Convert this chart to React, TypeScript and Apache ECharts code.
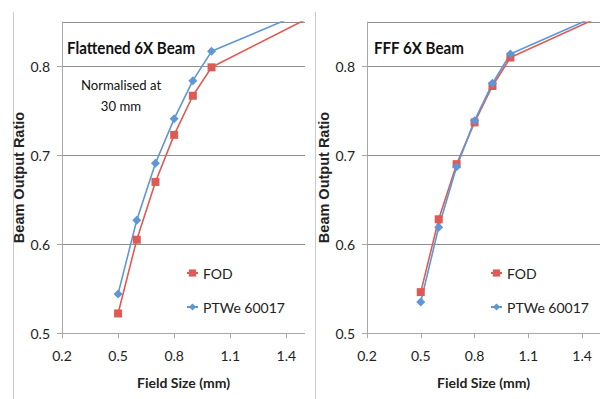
import React, { useEffect, useRef } from "react";
import * as echarts from "echarts";

const fieldSizes = [0.5, 0.6, 0.7, 0.8, 0.9, 1.0, 2.0];
const flatFOD = [0.522, 0.605, 0.67, 0.723, 0.767, 0.799, 0.906];
const flatPTW = [0.544, 0.627, 0.691, 0.741, 0.784, 0.817, 0.906];
const fffFOD = [0.546, 0.628, 0.69, 0.737, 0.778, 0.81, 0.902];
const fffPTW = [0.535, 0.619, 0.687, 0.739, 0.781, 0.814, 0.903];
const seriesNames = ["FOD", "PTWe 60017"];
const panelTitles = ["Flattened 6X Beam", "FFF 6X Beam"];
const noteLines = ["Normalised at", "30 mm"];
const xName = "Field Size (mm)";
const yName = "Beam Output Ratio";

const RED = "#DE5B53";
const BLUE = "#5F96D6";
const FONT = "Lato, 'Open Sans', sans-serif";
const ARIAL = "'Liberation Sans', Arial, sans-serif";

const pairs = (ys: number[]) => fieldSizes.map((x, i) => [x, ys[i]]);

export default function App() {
  const ref = useRef<HTMLDivElement>(null);
  useEffect(() => {
    if (!ref.current) return;
    const chart = echarts.init(ref.current, null, { renderer: "svg" });
    const grids = [
      { left: 62, top: 22, width: 243, height: 311 },
      { left: 367, top: 22, width: 240, height: 311 },
    ];
    const xAxis = grids.map((_, i) => ({
      type: "value",
      gridIndex: i,
      min: 0.2,
      max: 1.5,
      interval: 0.3,
      name: xName,
      nameLocation: "middle",
      nameGap: 42,
      nameTextStyle: { fontFamily: FONT, fontWeight: "bold", fontSize: 14, color: "#222" },
      axisLine: { show: true, lineStyle: { color: "#a8a8a8", width: 1 } },
      axisTick: { show: true, length: 5, lineStyle: { color: "#a8a8a8" } },
      axisLabel: {
        margin: 15,
        fontFamily: FONT,
        fontSize: 14,
        color: "#222",
        showMaxLabel: false,
        formatter: (v: number) => (Math.round(v * 10) / 10).toFixed(1),
      },
      splitLine: { show: false },
    }));
    const yAxis = grids.map((_, i) => ({
      type: "value",
      gridIndex: i,
      min: 0.5,
      max: 0.85,
      interval: 0.1,
      name: yName,
      nameLocation: "middle",
      nameGap: 32,
      nameTextStyle: { fontFamily: ARIAL, fontWeight: "bold", fontSize: 14.5, color: "#222" },
      axisLine: { show: true, lineStyle: { color: "#a8a8a8", width: 1 } },
      axisTick: { show: true, length: 5, lineStyle: { color: "#a8a8a8" } },
      axisLabel: {
        margin: 12,
        fontFamily: FONT,
        fontSize: 14,
        color: "#222",
        showMaxLabel: false,
        formatter: (v: number) => (Math.round(v * 10) / 10).toFixed(1),
      },
      splitLine: { show: true, lineStyle: { color: "#8f8f8f", width: 1 } },
    }));
    const mk = (name: string, data: number[], gi: number, color: string, symbol: string, size: number) => ({
      type: "line",
      name,
      xAxisIndex: gi,
      yAxisIndex: gi,
      data: pairs(data),
      symbol,
      symbolSize: size,
      clip: true,
      lineStyle: { color, width: 1.6 },
      itemStyle: { color },
    });
    const legend = (left: number) => ({
      data: seriesNames,
      orient: "vertical",
      left,
      top: 266,
      padding: 0,
      itemGap: 20,
      itemWidth: 11,
      itemHeight: 9,
      textStyle: { fontFamily: FONT, fontSize: 14, color: "#222" },
    });
    const txt = (x: number, y: number, text: string, size: number, weight: string, align: string, sx: number) => ({
      type: "text",
      x,
      y,
      scaleX: sx,
      style: { text, fontFamily: FONT, fontSize: size, fontWeight: weight, fill: "#111", align, verticalAlign: "middle" },
    });
    chart.setOption({
      animation: false,
      backgroundColor: "#fff",
      grid: grids,
      xAxis,
      yAxis,
      legend: [legend(186), legend(490)],
      series: [
        mk(seriesNames[0], flatFOD, 0, RED, "rect", 8),
        mk(seriesNames[1], flatPTW, 0, BLUE, "diamond", 9),
        mk(seriesNames[0], fffFOD, 1, RED, "rect", 8),
        mk(seriesNames[1], fffPTW, 1, BLUE, "diamond", 9),
      ],
      graphic: [
        { type: "line", shape: { x1: 13.5, y1: 12, x2: 13.5, y2: 399 }, style: { stroke: "#c8c8c8", lineWidth: 1 } },
        { type: "rect", shape: { x: 305, y: 0, width: 10, height: 399 }, style: { fill: "#fff" }, z: 100 },
        { type: "line", shape: { x1: 315.5, y1: 12, x2: 315.5, y2: 399 }, style: { stroke: "#c8c8c8", lineWidth: 1 }, z: 101 },
        txt(67, 47, panelTitles[0], 17, "bold", "left", 0.89),
        txt(374, 47, panelTitles[1], 17, "bold", "left", 0.89),
        txt(121, 85, noteLines[0], 14, "normal", "center", 0.94),
        txt(121, 106, noteLines[1], 14, "normal", "center", 0.94),
      ],
    });
    return () => chart.dispose();
  }, []);
  return <div ref={ref} style={{ position: "absolute", left: 0, top: 0, width: 600, height: 399 }} />;
}
